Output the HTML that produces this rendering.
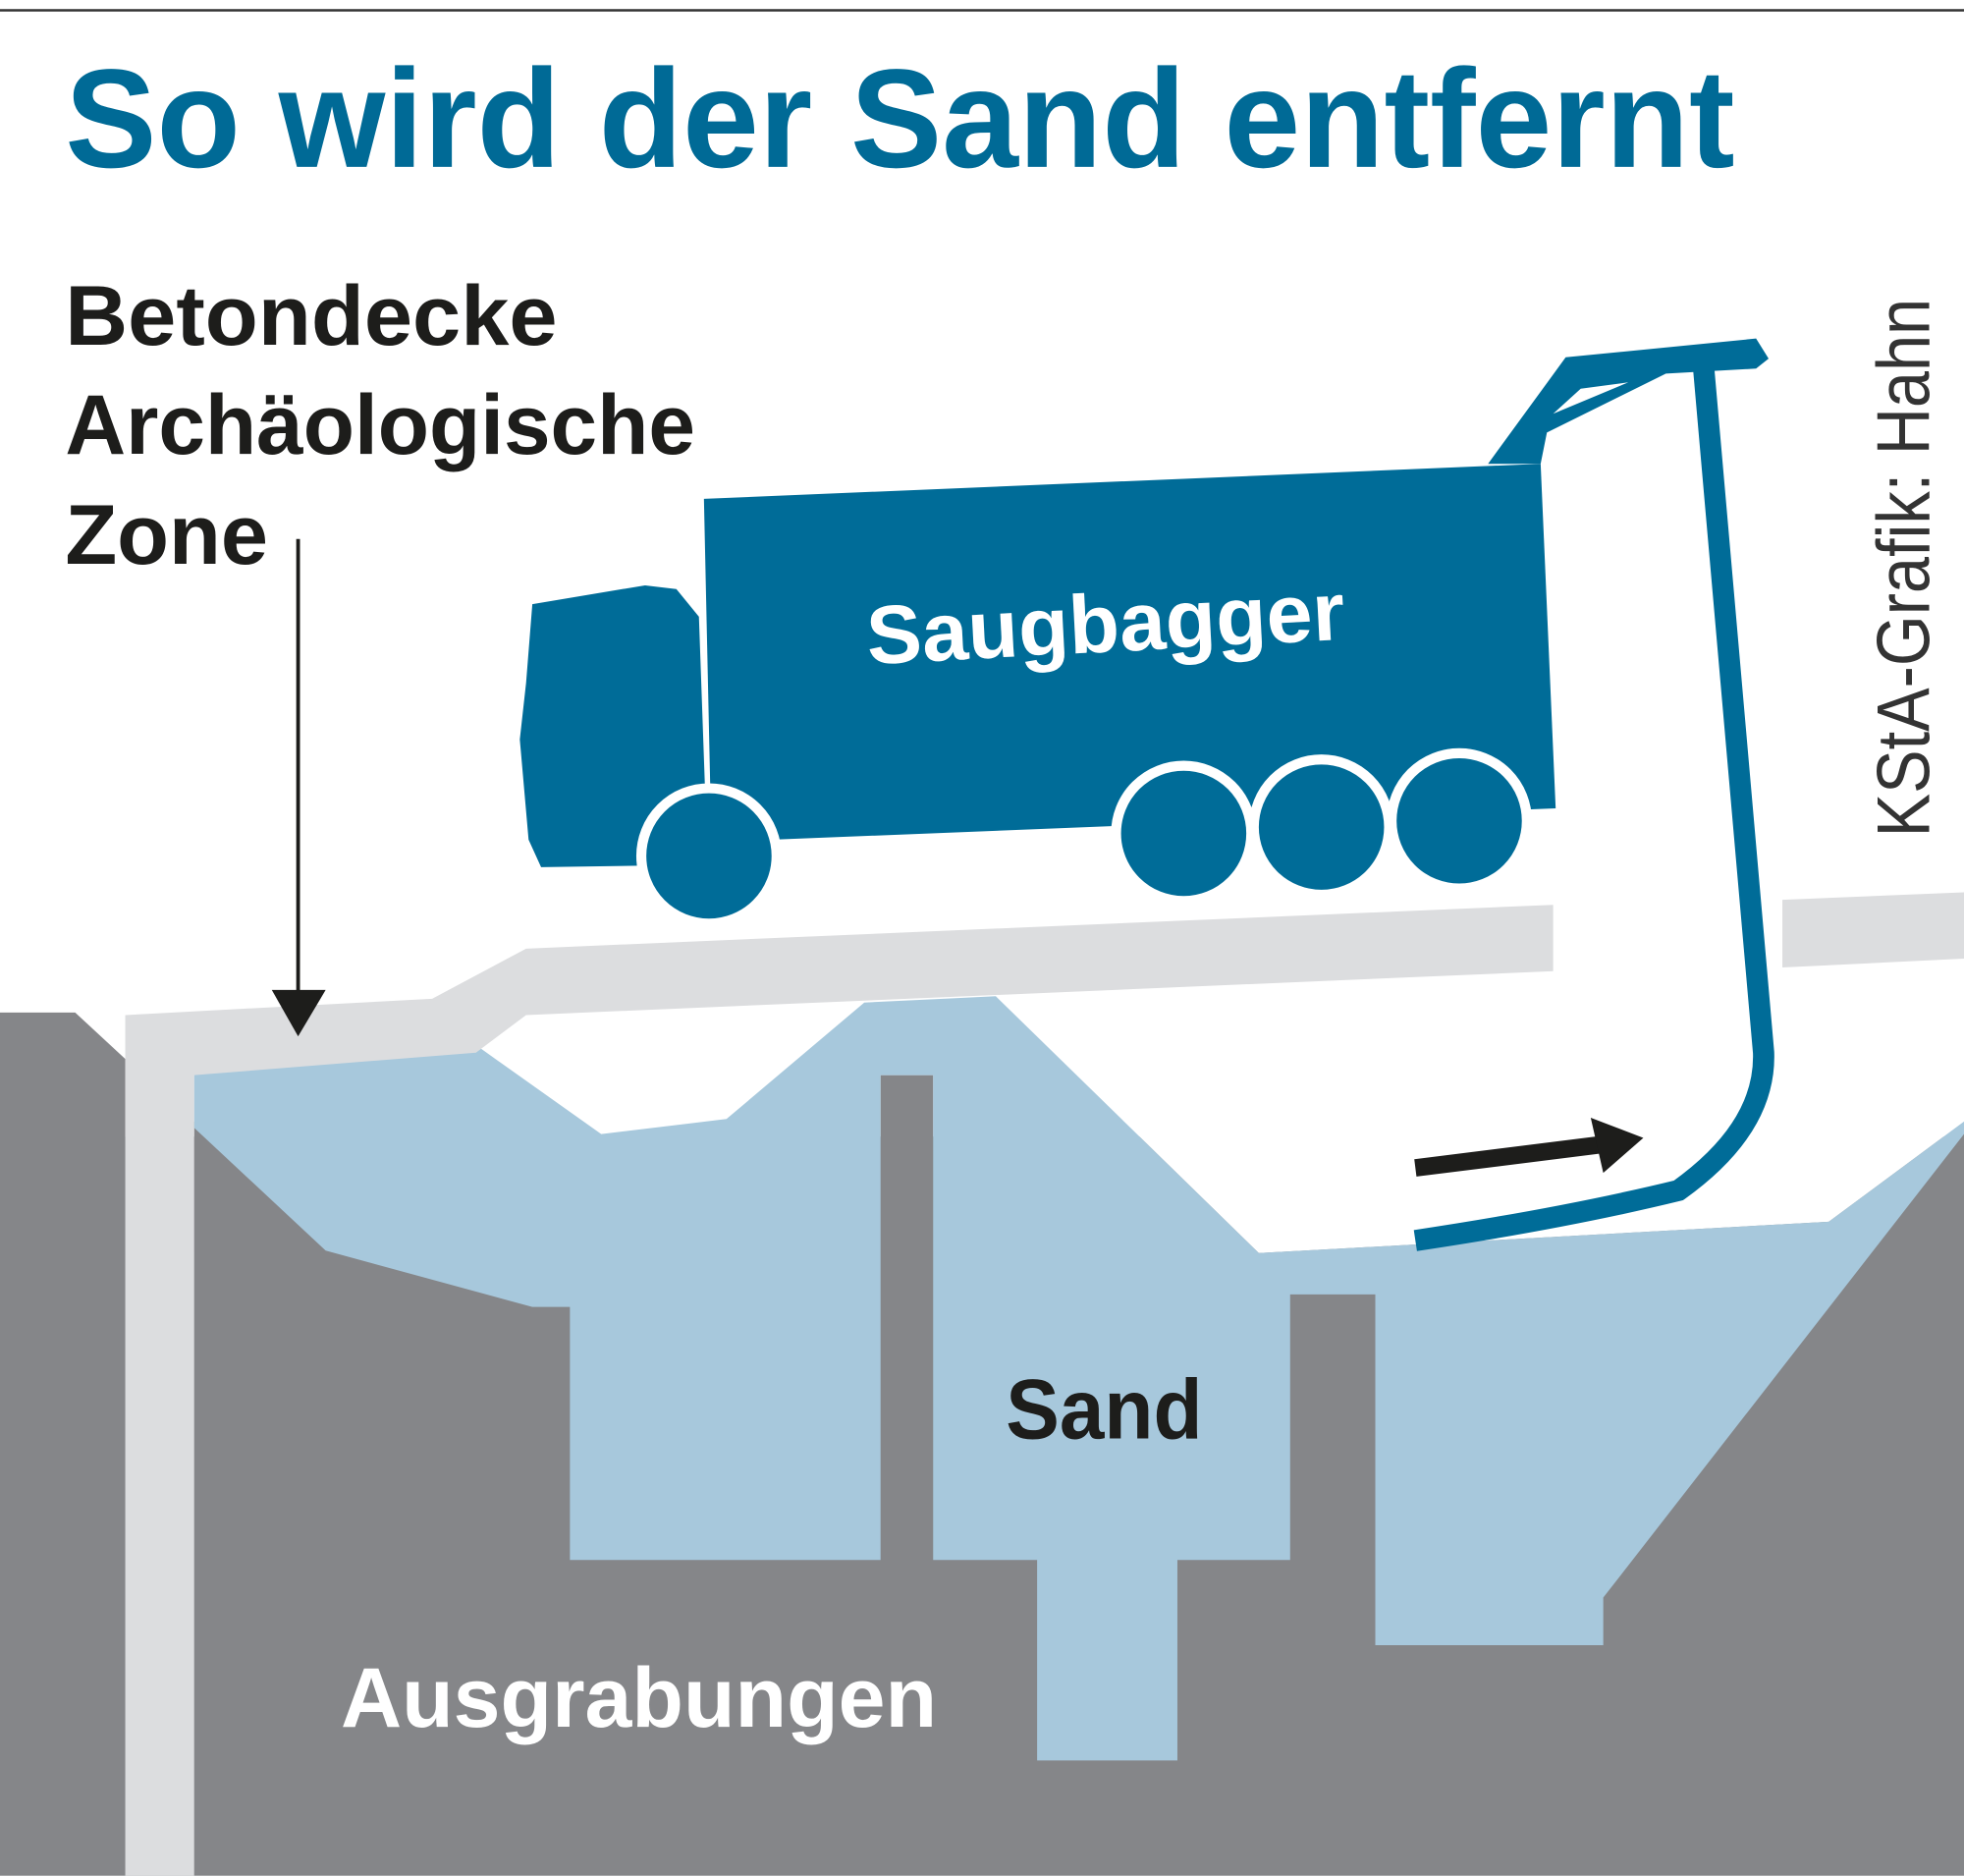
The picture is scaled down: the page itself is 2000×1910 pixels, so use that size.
<!DOCTYPE html>
<html><head><meta charset="utf-8"><style>html,body{margin:0;padding:0;background:#fff}svg{display:block}</style></head>
<body>
<svg width="2000" height="1910" viewBox="0 0 1568 1497" xmlns="http://www.w3.org/2000/svg">
<rect width="1568" height="1497" fill="#fff"/>
<line x1="0" y1="8" x2="1568" y2="8" stroke="#333" stroke-width="2"/>
<text x="52" y="133" font-family="Liberation Sans, sans-serif" font-weight="bold" font-size="112" fill="#006a96" textLength="1333" lengthAdjust="spacingAndGlyphs">So wird der Sand entfernt</text>
<g font-family="Liberation Sans, sans-serif" font-weight="bold" font-size="68" fill="#1d1d1b">
<text x="52" y="275" textLength="393" lengthAdjust="spacingAndGlyphs">Betondecke</text>
<text x="52" y="362" textLength="503" lengthAdjust="spacingAndGlyphs">Archäologische</text>
<text x="52" y="450" textLength="162" lengthAdjust="spacingAndGlyphs">Zone</text>
</g>
<!-- dark ground -->
<rect x="0" y="907" width="1568" height="590" fill="#858689"/>
<rect x="703" y="858" width="42" height="60" fill="#858689"/>
<polygon points="155,895 265,1000 155,1000" fill="#858689"/>
<polygon points="1568,900 1568,915 1555,915" fill="#858689"/>
<polygon points="0,808 60,808 100,845 100,910 0,910" fill="#858689"/>
<polygon points="795,795 1005,1000 1460,975 1568,895 1568,840 795,840" fill="#fff"/>
<!-- sand -->
<polygon fill="#a7c8dc" points="155,852 380,834 480,905 580,893 690,800 795,795 1005,1000 1460,975 1568,895 1568,905 1280,1275 1280,1313 1098,1313 1098,1033 1030,1033 1030,1245 940,1245 940,1405 828,1405 828,1245 745,1245 745,858 703,858 703,1245 455,1245 455,1043 425,1043 260,998 155,900"/>
<!-- slab -->
<polygon fill="#dcdddf" points="100,810 345,797 420,757 1240,722 1240,775 420,810 380,840 155,858 155,1497 100,1497"/>
<polygon fill="#dcdddf" points="1423,718 1568,712 1568,765 1423,772"/>
<!-- arrow down -->
<line x1="238" y1="430" x2="238" y2="795" stroke="#1d1d1b" stroke-width="3"/>
<polygon points="217,790 260,790 238,827" fill="#1d1d1b"/>
<!-- truck -->
<g fill="#006c98">
<polygon points="562,398 1230,370 1242,645 568,672"/>
<polygon points="425,482 515,467 540,470 558,492 565,690 432,692 422,670 415,590 420,545"/>
<polygon points="1188,370 1250,285 1402,270 1412,286 1402,294 1330,298 1235,345 1230,370"/>
<polygon points="1240,330 1262,310 1300,305" fill="#fff"/>
</g>
<path d="M1360,292 L1408,840 Q1410,900 1340,950 Q1250,972 1130,990" fill="none" stroke="#006c98" stroke-width="17"/>
<g fill="#006c98" stroke="#fff" stroke-width="8">
<circle cx="566" cy="683" r="54"/>
<circle cx="945" cy="665" r="54"/>
<circle cx="1055" cy="660" r="54"/>
<circle cx="1165" cy="655" r="54"/>
</g>
<text x="693" y="530" transform="rotate(-3 693 530)" font-family="Liberation Sans, sans-serif" font-weight="bold" font-size="66" fill="#fff" textLength="382" lengthAdjust="spacingAndGlyphs">Saugbagger</text>
<!-- black arrow -->
<line x1="1130" y1="932" x2="1282" y2="913" stroke="#1d1d1b" stroke-width="14"/>
<polygon points="1270,892 1312,908 1280,936" fill="#1d1d1b"/>
<text x="803" y="1148" font-family="Liberation Sans, sans-serif" font-weight="bold" font-size="68" fill="#1d1d1b" textLength="157" lengthAdjust="spacingAndGlyphs">Sand</text>
<text x="272" y="1378" font-family="Liberation Sans, sans-serif" font-weight="bold" font-size="68" fill="#fff" textLength="476" lengthAdjust="spacingAndGlyphs">Ausgrabungen</text>
<text x="1540" y="668" transform="rotate(-90 1540 668)" font-family="Liberation Sans, sans-serif" font-size="60" fill="#333" textLength="430" lengthAdjust="spacingAndGlyphs">KStA-Grafik: Hahn</text>
</svg>
</body></html>
